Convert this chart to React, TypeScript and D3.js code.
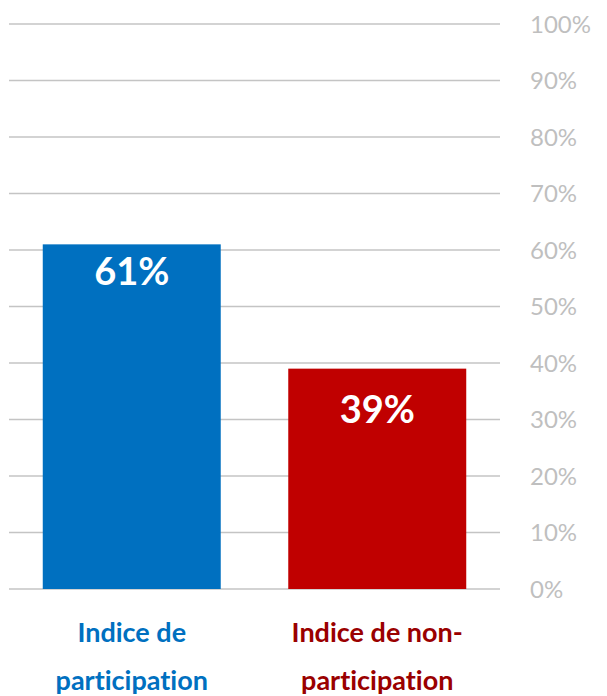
import React from "react";
import * as d3 from "d3";

const categories = ["Indice de participation", "Indice de non-participation"];
const categoryLines = [["Indice de", "participation"], ["Indice de non-", "participation"]];
const values = [0.61, 0.39];
const valueLabels = ["61%", "39%"];
const ticks = [0, 0.1, 0.2, 0.3, 0.4, 0.5, 0.6, 0.7, 0.8, 0.9, 1.0];

const barColors = ["#0070C0", "#C00000"];
const catColors = ["#0070C0", "#9A0000"];
const labelDy = [27, 41];

export default function App() {
  const W = 607, H = 696;
  const x0 = 9, x1 = 500;
  const y = d3.scaleLinear().domain([0, 1]).range([589, 24]);
  const x = d3.scaleBand<string>().domain(categories).range([x0, x1]).paddingInner(0.275).paddingOuter(0.1375);
  const font = "Lato, 'Open Sans', sans-serif";
  const noLig = { fontVariantLigatures: "none", fontFeatureSettings: '"liga" 0, "clig" 0' } as React.CSSProperties;
  return (
    <svg width={W} height={H} style={{ position: "absolute", left: 0, top: 0, background: "#fff" }}>
      {ticks.map((t) => (
        <g key={t}>
          <line x1={x0} x2={x1} y1={y(t)} y2={y(t)} stroke="#c4c4c4" strokeWidth={1.5} />
          <text x={530} y={y(t)} dy="0.36em" fill="#bfbfbf" fontSize={24} fontFamily={font}>
            {d3.format(".0%")(t)}
          </text>
        </g>
      ))}
      {categories.map((c, i) => {
        const bx = x(c)!;
        const bw = x.bandwidth();
        const cx = bx + bw / 2;
        return (
          <g key={c}>
            <rect x={bx} y={y(values[i])} width={bw} height={y(0) - y(values[i])} fill={barColors[i]} />
            <text x={cx} y={y(values[i]) + labelDy[i]} dy="0.36em" textAnchor="middle" fill="#fff" fontWeight="bold" fontSize={38} fontFamily={font}>
              {valueLabels[i]}
            </text>
            {categoryLines[i].map((ln, j) => (
              <text key={j} x={cx} y={632 + j * 48} dy="0.36em" textAnchor="middle" fill={catColors[i]} fontWeight="bold" fontSize={27} fontFamily={font} style={noLig}>
                {ln}
              </text>
            ))}
          </g>
        );
      })}
    </svg>
  );
}
